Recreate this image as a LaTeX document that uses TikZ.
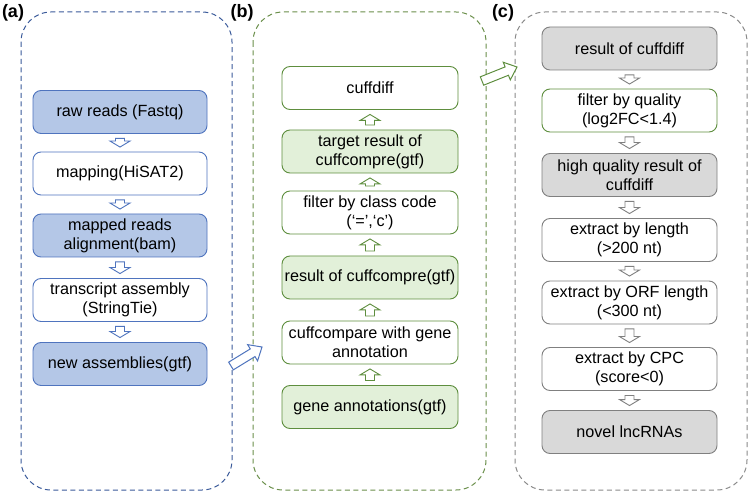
\documentclass[tikz,border=0pt]{standalone}
\usepackage{fontspec}
\setmainfont{Liberation Sans}
\usetikzlibrary{calc}
\definecolor{bluefill}{HTML}{B4C7E7}
\definecolor{blueedge}{HTML}{4F74BE}
\definecolor{bluedash}{HTML}{3A5A9A}
\definecolor{greenfill}{HTML}{E2F0D9}
\definecolor{greenedge}{HTML}{5E8E3E}
\definecolor{greendash}{HTML}{6A8F4A}
\definecolor{grayfill}{HTML}{D9D9D9}
\definecolor{grayedge}{HTML}{808080}
\definecolor{graydash}{HTML}{8A8A8A}
\tikzset{
  barrow/.style n args={4}{to path={
    let \p1=(\tikztostart), \p2=(\tikztotarget),
        \n1={atan2(\y2-\y1,\x2-\x1)},
        \n2={veclen(\x2-\x1,\y2-\y1)}
    in ([shift={(\p1)},rotate=\n1]#1,#2)
    -- ([shift={(\p1)},rotate=\n1]\n2-#1-#4,#2)
    -- ([shift={(\p1)},rotate=\n1]\n2-#1-#4,#3)
    -- ([shift={(\p1)},rotate=\n1]\n2-#1,0)
    -- ([shift={(\p1)},rotate=\n1]\n2-#1-#4,-#3)
    -- ([shift={(\p1)},rotate=\n1]\n2-#1-#4,-#2)
    -- ([shift={(\p1)},rotate=\n1]#1,-#2) -- cycle}},
  smallarrow/.style={barrow={4.5}{4.5}{10}{6}, fill=white, line width=0.9pt, line join=miter},
  bigarrow/.style={barrow={0}{4.5}{9.5}{11}, fill=white, line width=1pt, line join=miter},
  box/.style={rectangle, rounded corners=8pt, minimum width=175pt, minimum height=43pt,
    inner sep=2pt, align=center, font=\fontsize{16.2}{19}\selectfont, line width=0.9pt},
  bluebox/.style={box, fill=bluefill, draw=blueedge},
  bluewhite/.style={box, fill=white, draw=blueedge},
  greenbox/.style={box, fill=greenfill, draw=greenedge},
  greenwhite/.style={box, fill=white, draw=greenedge},
  graybox/.style={box, fill=grayfill, draw=grayedge},
  graywhite/.style={box, fill=white, draw=grayedge},
  panel/.style={rectangle, rounded corners=30pt, fill=white, line width=1pt, dash pattern=on 5pt off 3.5pt},
  plabel/.style={font=\bfseries\fontsize{18}{20}\selectfont, inner sep=0pt}
}
\begin{document}
\begin{tikzpicture}[x=1pt,y=1pt]
\useasboundingbox (0,0) rectangle (750,-494);
% panels
\draw[panel, draw=bluedash] (21,-12) rectangle (232,-490);
\draw[panel, draw=greendash] (253,-12) rectangle (486,-490);
\draw[panel, draw=graydash] (515,-12) rectangle (747,-490);
\node[plabel] (la) at (13,-13) {(a)};
\node[plabel] (lb) at (242,-13) {(b)};
\node[plabel] (lc) at (503,-13) {(c)};
% panel a
\node[bluebox, minimum width=174pt] (raw) at (120,-112) {raw reads (Fastq)};
\node[bluewhite, minimum width=174pt] (map) at (120,-173.5) {mapping(HiSAT2)};
\node[bluebox, minimum width=174pt] (mapped) at (120,-235.5) {mapped reads\\alignment(bam)};
\node[bluewhite, minimum width=174pt] (asm) at (120,-300) {transcript assembly\\(StringTie)};
\node[bluebox, minimum width=174pt] (newasm) at (120,-364) {new assemblies(gtf)};
% panel b
\node[greenwhite, minimum width=176pt] (cuffdiff) at (370,-88) {cuffdiff};
\node[greenbox, minimum width=176pt] (target) at (370,-151.5) {target result of\\cuffcompre(gtf)};
\node[greenwhite, minimum width=176pt] (filter) at (370,-212.5) {filter by class code\\(‘=’,‘c’)};
\node[greenbox, minimum width=176pt] (result) at (370,-277.5) {result of cuffcompre(gtf)};
\node[greenwhite, minimum width=176pt] (cmp) at (370,-342.5) {cuffcompare with gene\\annotation};
\node[greenbox, minimum width=176pt] (gene) at (370,-407) {gene annotations(gtf)};
% panel c
\node[graybox] (rcd) at (629.5,-48.5) {result of cuffdiff};
\node[greenwhite] (fq) at (629.5,-110.5) {filter by quality\\(log2FC<1.4)};
\node[graybox] (hq) at (629.5,-175) {high quality result of\\cuffdiff};
\node[graywhite] (len) at (629.5,-240) {extract by length\\(>200 nt)};
\node[graywhite] (orf) at (629.5,-302.5) {extract by ORF length\\(<300 nt)};
\node[graywhite] (cpc) at (629.5,-369) {extract by CPC\\(score<0)};
\node[graybox] (novel) at (629.5,-432) {novel lncRNAs};
% small arrows a
\draw[smallarrow, draw=blueedge] (raw.south) to (map.north);
\draw[smallarrow, draw=blueedge] (map.south) to (mapped.north);
\draw[smallarrow, draw=blueedge] (mapped.south) to (asm.north);
\draw[smallarrow, draw=blueedge] (asm.south) to (newasm.north);
% small arrows b (upwards)
\draw[smallarrow, draw=greenedge] (gene.north) to (cmp.south);
\draw[smallarrow, draw=greenedge] (cmp.north) to (result.south);
\draw[smallarrow, draw=greenedge] (result.north) to (filter.south);
\draw[smallarrow, draw=greenedge] (filter.north) to (target.south);
\draw[smallarrow, draw=greenedge] (target.north) to (cuffdiff.south);
% small arrows c
\draw[smallarrow, draw=grayedge] (rcd.south) to (fq.north);
\draw[smallarrow, draw=grayedge] (fq.south) to (hq.north);
\draw[smallarrow, draw=grayedge] (hq.south) to (len.north);
\draw[smallarrow, draw=grayedge] (len.south) to (orf.north);
\draw[smallarrow, draw=grayedge] (orf.south) to (cpc.north);
\draw[smallarrow, draw=grayedge] (cpc.south) to (novel.north);
% big arrows
\coordinate (abS) at (231,-366);
\coordinate (abE) at (262,-347);
\coordinate (bcS) at (482,-81);
\coordinate (bcE) at (517,-67);
\draw[bigarrow, draw=blueedge] (abS) to (abE);
\draw[bigarrow, draw=greenedge] (bcS) to (bcE);
\end{tikzpicture}
\end{document}
